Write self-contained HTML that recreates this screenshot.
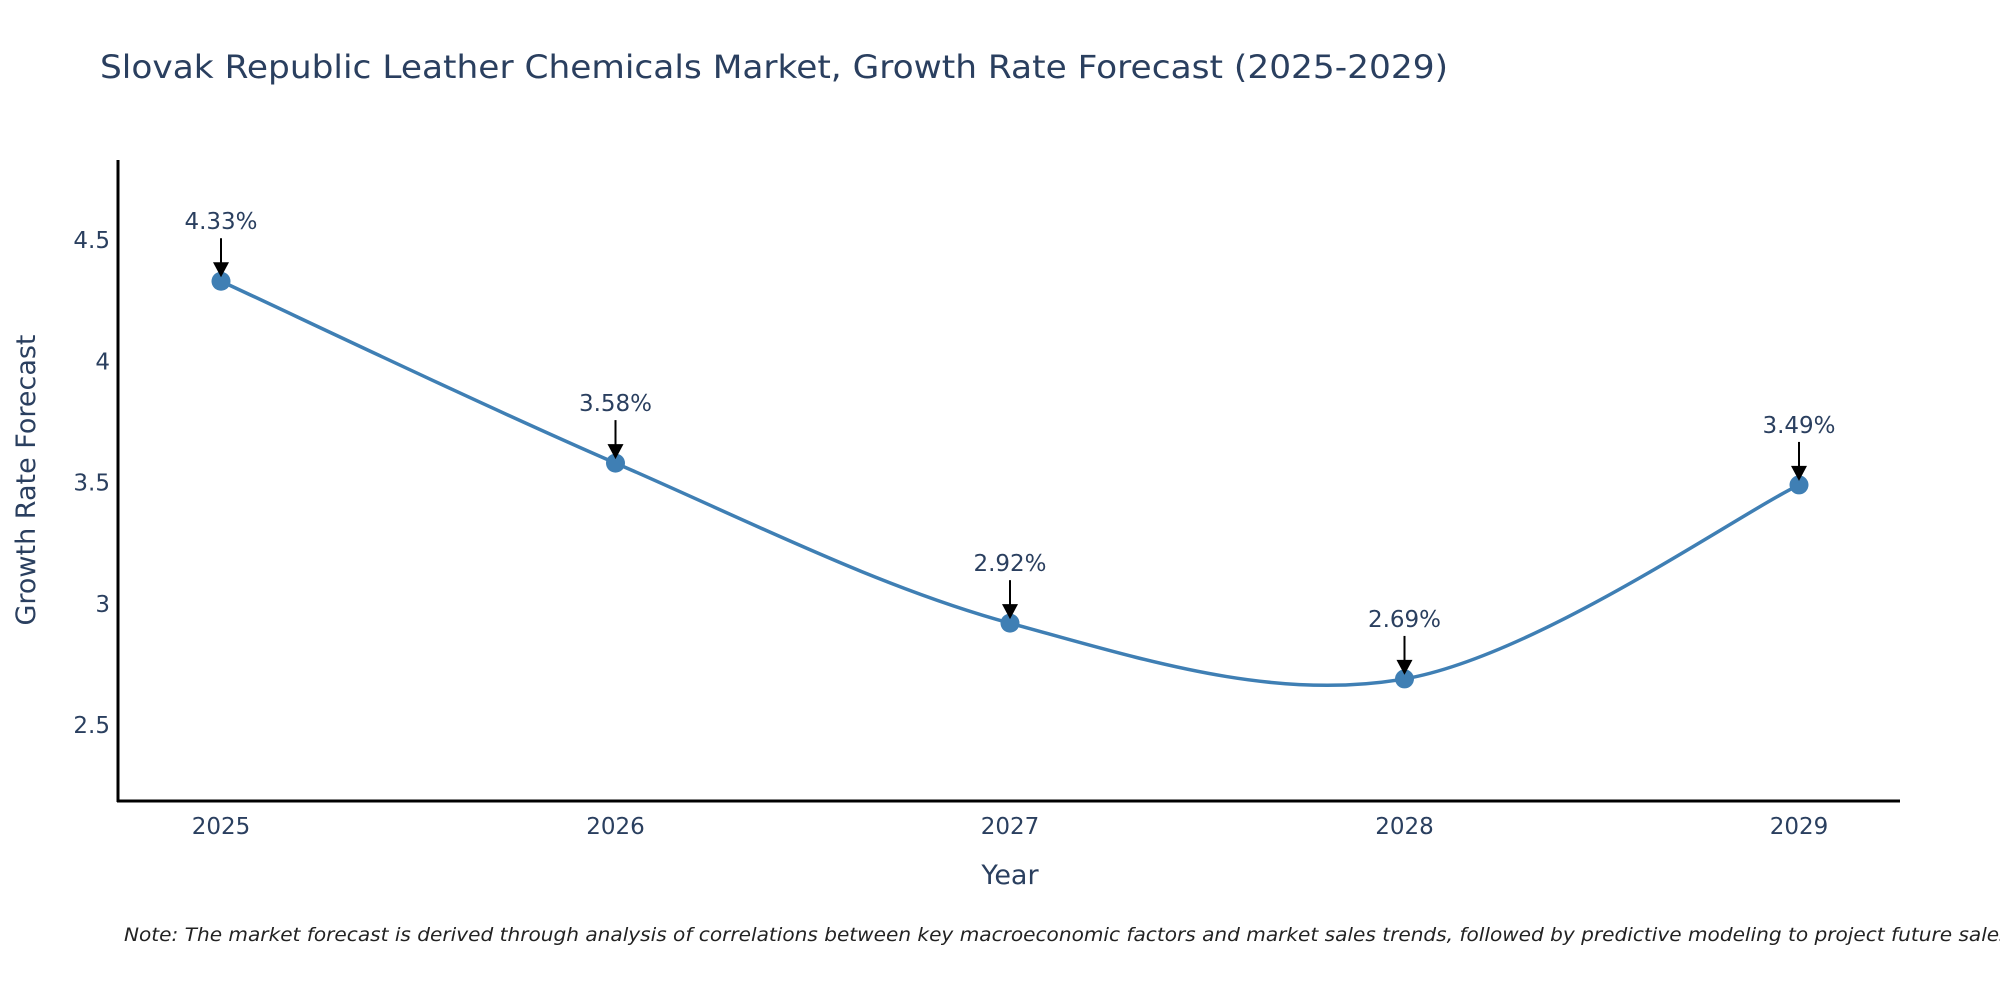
<!DOCTYPE html>
<html><head><meta charset="utf-8"><style>
body{margin:0;background:#fff}
svg text{font-family:"DejaVu Sans","Liberation Sans",sans-serif;fill:#2a3f5f}
</style></head><body>
<svg width="2000" height="1000" viewBox="0 0 2000 1000">
<text x="100" y="78" font-size="32" textLength="1348" lengthAdjust="spacingAndGlyphs">Slovak Republic Leather Chemicals Market, Growth Rate Forecast (2025-2029)</text>
<g id="yticks"></g>
<g id="xticks"></g>
<path id="line" fill="none" stroke="#3f7fb4" stroke-width="3.5"/>
<g id="pts"></g>
<g id="ann"></g>
<line x1="118" y1="160" x2="118" y2="802" stroke="#000" stroke-width="3"/>
<line x1="117" y1="801" x2="1900" y2="801" stroke="#000" stroke-width="3"/>
<text x="1010" y="884" font-size="27" text-anchor="middle">Year</text>
<text transform="translate(35,480) rotate(-90)" font-size="27" text-anchor="middle">Growth Rate Forecast</text>
<text x="124" y="941" font-size="19" font-style="italic" textLength="1892" lengthAdjust="spacingAndGlyphs" style="fill:#222">Note: The market forecast is derived through analysis of correlations between key macroeconomic factors and market sales trends, followed by predictive modeling to project future sales.</text>
</svg>
<script>
const years=[2025,2026,2027,2028,2029];
const values=[4.33,3.58,2.92,2.69,3.49];
const labels=["4.33%","3.58%","2.92%","2.69%","3.49%"];
const yTicks=[2.5,3,3.5,4,4.5];
const yTickLabels=["2.5","3","3.5","4","4.5"];
const NS="http://www.w3.org/2000/svg";
const X=v=>221+(v-2025)*394.5;
const Y=v=>240+(4.5-v)*242.5;
function mk(t,a,p){const e=document.createElementNS(NS,t);for(const k in a)e.setAttribute(k,a[k]);p.appendChild(e);return e;}
const yt=document.getElementById('yticks');
yTicks.forEach((v,i)=>{const t=mk('text',{x:110,y:Y(v)+8,'font-size':23,'text-anchor':'end'},yt);t.textContent=yTickLabels[i];

});
const xt=document.getElementById('xticks');
years.forEach(v=>{const t=mk('text',{x:X(v),y:834,'font-size':23,'text-anchor':'middle'},xt);t.textContent=v;

});
const P=years.map((y,i)=>[X(y),Y(values[i])]);
let d=`M${P[0][0]},${P[0][1]}`;
for(let i=0;i<P.length-1;i++){
 const p0=P[Math.max(i-1,0)],p1=P[i],p2=P[i+1],p3=P[Math.min(i+2,P.length-1)];
 const c1=[p1[0]+(p2[0]-p0[0])/6,p1[1]+(p2[1]-p0[1])/6];
 const c2=[p2[0]-(p3[0]-p1[0])/6,p2[1]-(p3[1]-p1[1])/6];
 d+=` C${c1[0]},${c1[1]} ${c2[0]},${c2[1]} ${p2[0]},${p2[1]}`;
}
document.getElementById('line').setAttribute('d',d);
const pts=document.getElementById('pts'),ann=document.getElementById('ann');
P.forEach((p,i)=>{
 const c=mk('circle',{cx:p[0],cy:p[1],r:9.5,fill:'#3f7fb4'},pts);
 
 
 const l=mk('line',{x1:p[0],y1:p[1]-43,x2:p[0],y2:p[1]-16,stroke:'#000','stroke-width':2},ann);
 
 
 const h=mk('path',{d:`M${p[0]-8},${p[1]-19} L${p[0]+8},${p[1]-19} L${p[0]},${p[1]-4} Z`,fill:'#000'},ann);
 
 
 const t=mk('text',{x:p[0],y:p[1]-52,'font-size':23,'text-anchor':'middle'},ann);
 t.textContent=labels[i];
 
 
});
</script>
</body></html>
